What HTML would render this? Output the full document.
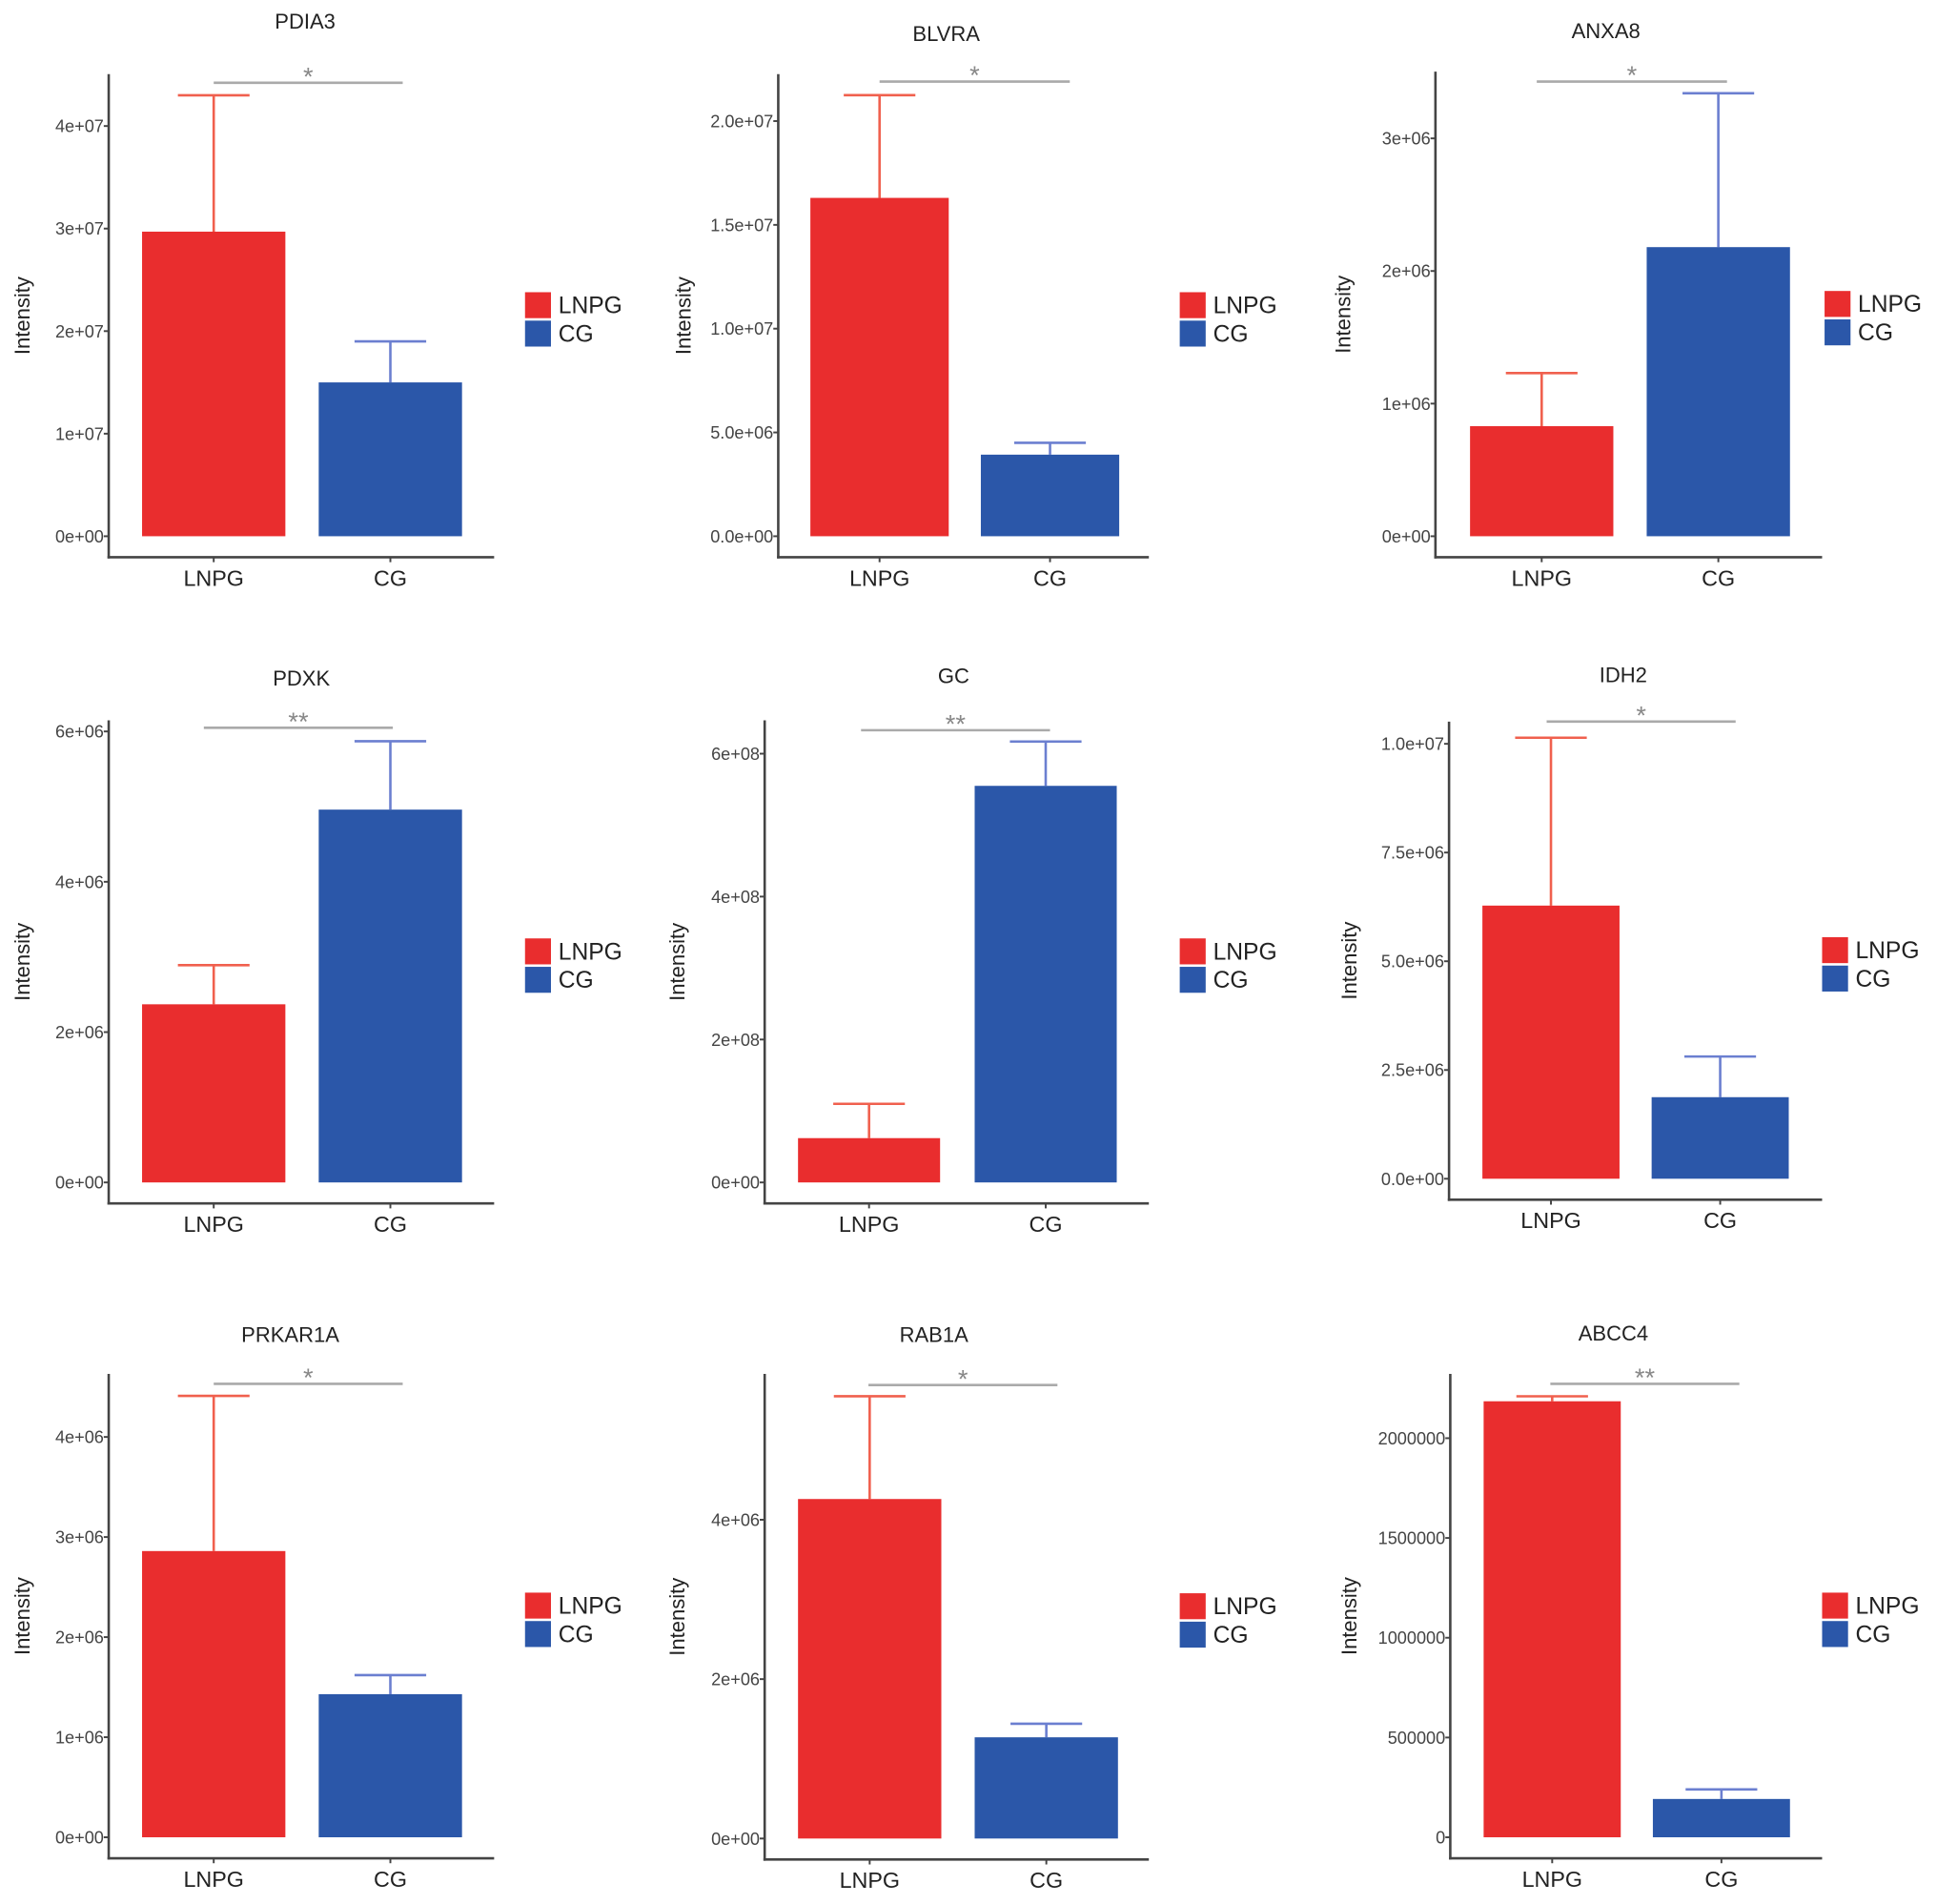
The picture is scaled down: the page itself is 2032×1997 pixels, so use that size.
<!DOCTYPE html>
<html><head><meta charset="utf-8"><style>
html,body{margin:0;padding:0;background:#fff;}
svg{display:block;font-family:"Liberation Sans",Arial,sans-serif;}
</style></head><body>
<svg id="fig" width="2032" height="1997" viewBox="0 0 1568 1541" xmlns="http://www.w3.org/2000/svg"></svg>
<script>
// ---- data ----
const genes = ["PDIA3","BLVRA","ANXA8","PDXK","GC","IDH2","PRKAR1A","RAB1A","ABCC4"];
const groups = ["LNPG","CG"];
const lnpgMeans = [2.97e7, 1.63e7, 0.83e6, 2.37e6, 0.62e8, 6.28e6, 2.86e6, 4.26e6, 2.185e6];
const lnpgUpper = [4.30e7, 2.125e7, 1.23e6, 2.89e6, 1.10e8, 1.014e7, 4.41e6, 5.55e6, 2.21e6];
const cgMeans   = [1.50e7, 3.93e6, 2.18e6, 4.96e6, 5.55e8, 1.875e6, 1.43e6, 1.27e6, 1.92e5];
const cgUpper   = [1.90e7, 4.50e6, 3.34e6, 5.87e6, 6.17e8, 2.81e6, 1.62e6, 1.44e6, 2.40e5];
const signif = ["*","*","*","**","**","*","*","*","**"];
const tickValues = [
  [0,1e7,2e7,3e7,4e7],[0,5e6,1e7,1.5e7,2e7],[0,1e6,2e6,3e6],
  [0,2e6,4e6,6e6],[0,2e8,4e8,6e8],[0,2.5e6,5e6,7.5e6,1e7],
  [0,1e6,2e6,3e6,4e6],[0,2e6,4e6],[0,5e5,1e6,1.5e6,2e6]];
const tickLabels = [
  ["0e+00","1e+07","2e+07","3e+07","4e+07"],
  ["0.0e+00","5.0e+06","1.0e+07","1.5e+07","2.0e+07"],
  ["0e+00","1e+06","2e+06","3e+06"],
  ["0e+00","2e+06","4e+06","6e+06"],
  ["0e+00","2e+08","4e+08","6e+08"],
  ["0.0e+00","2.5e+06","5.0e+06","7.5e+06","1.0e+07"],
  ["0e+00","1e+06","2e+06","3e+06","4e+06"],
  ["0e+00","2e+06","4e+06"],
  ["0","500000","1000000","1500000","2000000"]];

// ---- layout (overview pixel space) ----
// axisX, zeroY, topTickY, axisTop, axisRight, bar1x, bar2x, barW, titleX, titleY, sigY, sigX1, sigX2, legX, yTitleX
const layout = [
  [88,434,102,60,400,115,258,116,247,17,67,173,326,425,18],
  [630,434,98,60,930,656,794,112,766,27,66,712,866,955,553],
  [1162,434,112,58,1475,1190,1333,116,1300,25,66,1244,1398,1477,1087],
  [88,957,592,583,400,115,258,116,244,549,589,165,318,425,18],
  [619,957,610,583,930,646,789,115,772,547,591,697,850,955,548],
  [1173,954,602,584,1475,1200,1337,111,1314,546,584,1252,1405,1475,1092],
  [88,1487,1163,1112,400,115,258,116,235,1080,1120,173,326,425,18],
  [619,1488,1230,1112,930,646,789,116,756,1080,1121,703,856,955,548],
  [1174,1487,1164,1112,1475,1201,1338,111,1306,1079,1120,1255,1408,1475,1092]];

const NS="http://www.w3.org/2000/svg";
const svg=document.getElementById('fig');
function mk(tag,attrs,parent,text){const e=document.createElementNS(NS,tag);for(const k in attrs)e.setAttribute(k,attrs[k]);if(text!==undefined)e.textContent=text;parent.appendChild(e);return e;}
const RED="#E92D2E",BLUE="#2B57A9",REDE="#F0604E",BLUEE="#6B7FD0",AX="#444";

genes.forEach((g,i)=>{
  const [ax,zy,ty,atop,ar,b1,b2,bw,tx,tyy,sy,sx1,sx2,lx,ytx]=layout[i];
  const tv=tickValues[i];
  const maxT=tv[tv.length-1];
  const yS=v=>zy-(v/maxT)*(zy-ty);
  const grp=mk('g',{},svg);
  
  
  const t=mk('text',{x:tx,y:tyy+6,'text-anchor':'middle','font-size':17,fill:'#222'},grp,g);
  
  
  const axisY=zy+17;
  const ya=mk('line',{x1:ax,y1:atop,x2:ax,y2:axisY+1,stroke:AX,'stroke-width':2},grp);
  
  
  const xa=mk('line',{x1:ax-1,y1:axisY,x2:ar,y2:axisY,stroke:AX,'stroke-width':2},grp);
  
  
  tv.forEach((v,k)=>{
    const y=yS(v);
    mk('line',{x1:ax-4,y1:y,x2:ax,y2:y,stroke:AX,'stroke-width':1.5},grp);
    const tl=mk('text',{x:ax-4,y:y+5,'text-anchor':'end','font-size':14,fill:'#444'},grp,tickLabels[i][k]);
    
    
  });
  const yt=mk('text',{x:0,y:0,transform:`translate(${ytx+6},${(atop+axisY)/2}) rotate(-90)`,'text-anchor':'middle','font-size':17,fill:'#222'},grp,'Intensity');
  
  
  const means=[lnpgMeans[i],cgMeans[i]],ups=[lnpgUpper[i],cgUpper[i]],xs=[b1,b2];
  [0,1].forEach(j=>{
    const cx=xs[j]+bw/2;
    const ec=j===0?REDE:BLUEE;
    mk('line',{x1:cx,y1:yS(means[j]),x2:cx,y2:yS(ups[j]),stroke:ec,'stroke-width':2},grp);
    mk('line',{x1:cx-29,y1:yS(ups[j]),x2:cx+29,y2:yS(ups[j]),stroke:ec,'stroke-width':2},grp);
    const r=mk('rect',{x:xs[j],y:yS(means[j]),width:bw,height:zy-yS(means[j]),fill:j===0?RED:BLUE},grp);
    
    
    mk('line',{x1:cx,y1:axisY,x2:cx,y2:axisY+4,stroke:AX,'stroke-width':1.5},grp);
    const xl=mk('text',{x:cx,y:axisY+23,'text-anchor':'middle','font-size':18,fill:'#222'},grp,groups[j]);
    
    
  });
  const sl=mk('line',{x1:sx1,y1:sy,x2:sx2,y2:sy,stroke:'#aaa','stroke-width':2},grp);
  
  
  const st=mk('text',{x:(sx1+sx2)/2,y:sy+2,'text-anchor':'middle','font-size':21,fill:'#888'},grp,signif[i]);
  
  
  const ly=(atop+axisY)/2-19;
  [0,1].forEach(j=>{
    const le=mk('g',{},grp);
    
    
    mk('rect',{x:lx,y:ly+j*23,width:21,height:21,fill:j===0?RED:BLUE},le);
    mk('text',{x:lx+27,y:ly+j*23+17,'font-size':19,fill:'#222'},le,groups[j]);
  });
});
</script>
</body></html>
